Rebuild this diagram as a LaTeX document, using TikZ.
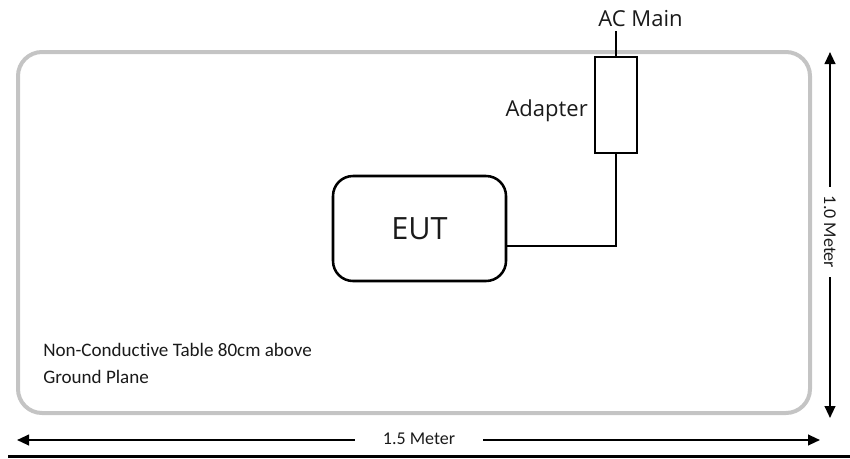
\documentclass[tikz,border=0pt]{standalone}
\usepackage{fontspec}
\setmainfont{Open Sans}
\newfontfamily\calfont[Ligatures={NoCommon}]{Carlito}
\usetikzlibrary{arrows.meta}
\definecolor{tablegray}{HTML}{C4C4C4}
\definecolor{textdark}{HTML}{1A1A1A}
\begin{document}
\begin{tikzpicture}[x=0.75pt,y=-0.75pt,
  tablebox/.style={draw=tablegray,line width=3pt,rounded corners=18pt,minimum width=594pt,minimum height=270.75pt,inner sep=0pt},
  eutbox/.style={draw=black,line width=1.9pt,rounded corners=15pt,minimum width=129.75pt,minimum height=78.75pt,inner sep=0pt,font=\fontsize{23}{26}\selectfont,text=textdark},
  adapterbox/.style={draw=black,line width=1.1pt,minimum width=31.5pt,minimum height=72pt,inner sep=0pt},
  wire/.style={draw=black,line width=1.1pt},
  biglabel/.style={font=\fontsize{16.5}{19}\selectfont,text=textdark,inner sep=0pt},
  smalllabel/.style={font=\calfont\fontsize{14.3}{20.25}\selectfont,text=textdark,inner sep=0pt},
  dimlabel/.style={font=\calfont\fontsize{13.5}{16}\selectfont,text=textdark,inner sep=0pt},
  dimline/.style={draw=black,line width=1.5pt,-{Triangle[length=9pt,width=8pt]}}
]
\useasboundingbox (0,0) rectangle (850,458);
% table
\node[tablebox] (table) at (414,232.5) {};
% EUT
\node[eutbox] (eut) at (419.5,228.5) {EUT};
% adapter
\node[adapterbox] (adapter) at (616,105) {};
\node[biglabel,anchor=east] (adlabel) at (588,111) {Adapter};
% AC main
\node[biglabel] (acmain) at (640.5,19) {AC Main};
\coordinate (acend) at (616,31);
\draw[wire] (adapter.north) -- (acend);
\draw[wire] (adapter.south) |- ([yshift=-13pt]eut.east);
% table label
\node[smalllabel,anchor=north west,align=left] (tlabel) at (43,343) {Non-Conductive Table 80cm above\\Ground Plane};
% vertical dimension
\node[dimlabel,rotate=-90,minimum width=67.5pt] (vlab) at (830,232) {1.0 Meter};
\coordinate (vtop) at (830,52);
\coordinate (vbot) at (830,418);
\draw[dimline] (vlab.west) -- (vtop);
\draw[dimline] (vlab.east) -- (vbot);
% horizontal dimension
\node[dimlabel,minimum width=96pt] (hlab) at (419,439) {1.5 Meter};
\coordinate (hleft) at (17,440);
\coordinate (hright) at (820,440);
\draw[dimline] (hlab.west |- hleft) -- (hleft);
\draw[dimline] (hlab.east |- hright) -- (hright);
% bottom bar
\fill[black] (8,455) rectangle (850,458);
\end{tikzpicture}
\end{document}
